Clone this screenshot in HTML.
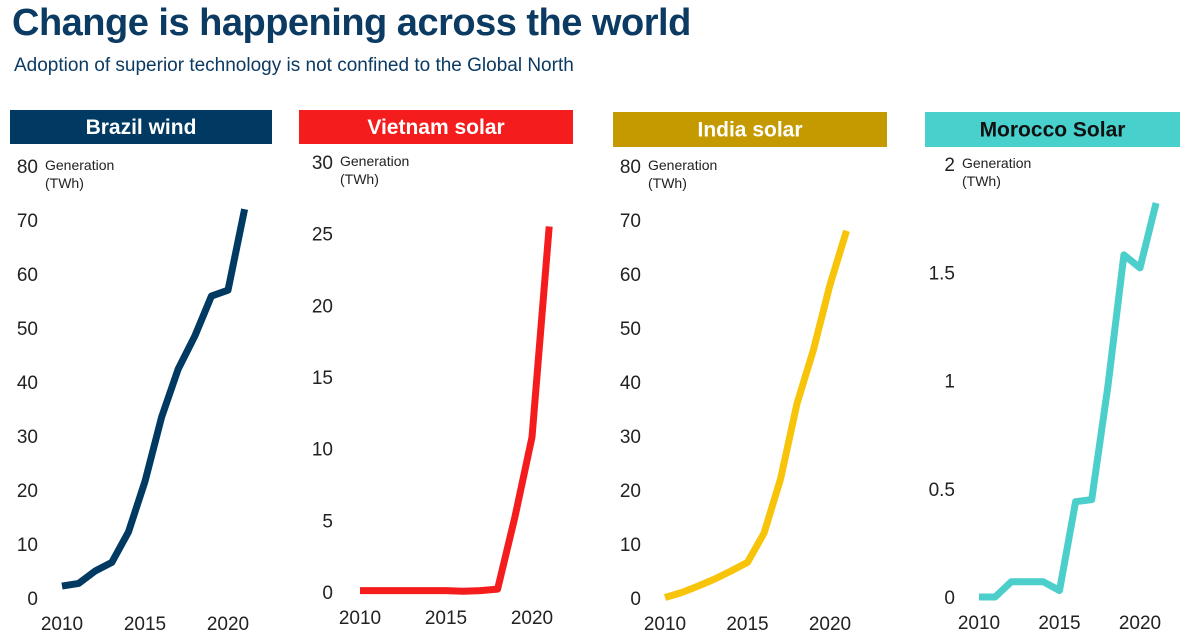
<!DOCTYPE html>
<html><head><meta charset="utf-8">
<style>
body{margin:0;width:1194px;height:643px;background:#fff;font-family:"Liberation Sans",sans-serif;overflow:hidden;position:relative}
#title{position:absolute;left:12px;top:2px;font-size:38px;font-weight:bold;color:#0b3a63;letter-spacing:-0.5px}
#sub{position:absolute;left:14px;top:55px;font-size:19px;color:#0b3a63}
svg{position:absolute;left:0;top:0}
</style></head><body>
<div id="title">Change is happening across the world</div>
<div id="sub">Adoption of superior technology is not confined to the Global North</div>
<svg id="svg" width="1194" height="643"></svg>
<script>
const years=[2010,2011,2012,2013,2014,2015,2016,2017,2018,2019,2020,2021];
const brazilValues=[2.2,2.7,5.0,6.6,12.2,21.6,33.5,42.4,48.5,55.9,57,72];
const vietnamValues=[0.1,0.1,0.1,0.1,0.1,0.1,0.05,0.1,0.2,5.2,10.8,25.5];
const indiaValues=[0.1,1.0,2.2,3.5,5,6.6,12,22,36,46,58,68];
const moroccoValues=[0,0,0.07,0.07,0.07,0.03,0.44,0.45,0.97,1.58,1.52,1.82];
const brazilTicks=["0","10","20","30","40","50","60","70","80"];
const vietnamTicks=["0","5","10","15","20","25","30"];
const indiaTicks=["0","10","20","30","40","50","60","70","80"];
const moroccoTicks=["0","0.5","1","1.5","2"];
const xTicks=[2010,2015,2020];
const titles=["Brazil wind","Vietnam solar","India solar","Morocco Solar"];

const panels=[
 {name:"brazil",vals:brazilValues,ticks:brazilTicks,max:80,color:"#003a63",hx:10,hy:110,hw:262,hh:34,tc:"#fff",y0:598,y1:166,x0:62,x1:228,ax:38},
 {name:"vietnam",vals:vietnamValues,ticks:vietnamTicks,max:30,color:"#f41c1c",hx:299,hy:110,hw:274,hh:34,tc:"#fff",y0:592,y1:162,x0:360,x1:532,ax:333},
 {name:"india",vals:indiaValues,ticks:indiaTicks,max:80,color:"#f7c40a",hc:"#c49a00",hx:613,hy:112,hw:274,hh:35,tc:"#fff",y0:598,y1:166,x0:665,x1:830,ax:641},
 {name:"morocco",vals:moroccoValues,ticks:moroccoTicks,max:2,color:"#4ccfca",hc:"#48d1cc",hx:925,hy:112,hw:255,hh:35,tc:"#111",y0:597,y1:164,x0:979,x1:1140,ax:955}
];
const svg=document.getElementById('svg');
const NS="http://www.w3.org/2000/svg";
function mk(t,a,p){const e=document.createElementNS(NS,t);for(const k in a)e.setAttribute(k,a[k]);(p||svg).appendChild(e);return e;}
panels.forEach((p,i)=>{
 const g=mk('g',{});
 
 
 const h=mk('rect',{x:p.hx,y:p.hy,width:p.hw,height:p.hh,fill:p.hc||p.color},g);
 
 
 const ht=mk('text',{x:p.hx+p.hw/2,y:p.hy+p.hh/2+7,'text-anchor':'middle','font-size':21,'font-weight':'bold',fill:p.tc},g);
 ht.textContent=titles[i];
 
 
 const ys=v=>p.y0-(v/p.max)*(p.y0-p.y1);
 const xs=y=>p.x0+(y-2010)/10*(p.x1-p.x0);
 const n=p.ticks.length;
 p.ticks.forEach((t,j)=>{
  const v=p.max*j/(n-1);
  const tx=mk('text',{x:p.ax,y:ys(v)+7,'text-anchor':'end','font-size':19,fill:'#222'},g);
  tx.textContent=t;
  
  
 });
 const at=mk('text',{x:p.ax+7,y:p.y1+4,'font-size':14,fill:'#222'},g);
 at.innerHTML='<tspan>Generation</tspan><tspan x="'+(p.ax+7)+'" dy="18">(TWh)</tspan>';
 
 
 xTicks.forEach(y=>{
  const tx=mk('text',{x:xs(y),y:p.y0+32,'text-anchor':'middle','font-size':19,fill:'#222'},g);
  tx.textContent=y;
  
  
 });
 const d=p.vals.map((v,k)=>(k?'L':'M')+xs(years[k]).toFixed(1)+','+ys(v).toFixed(1)).join('');
 const ln=mk('path',{d:d,fill:'none',stroke:p.color,'stroke-width':7,'stroke-linejoin':'round'},g);
 
 
});
</script>
</body></html>
